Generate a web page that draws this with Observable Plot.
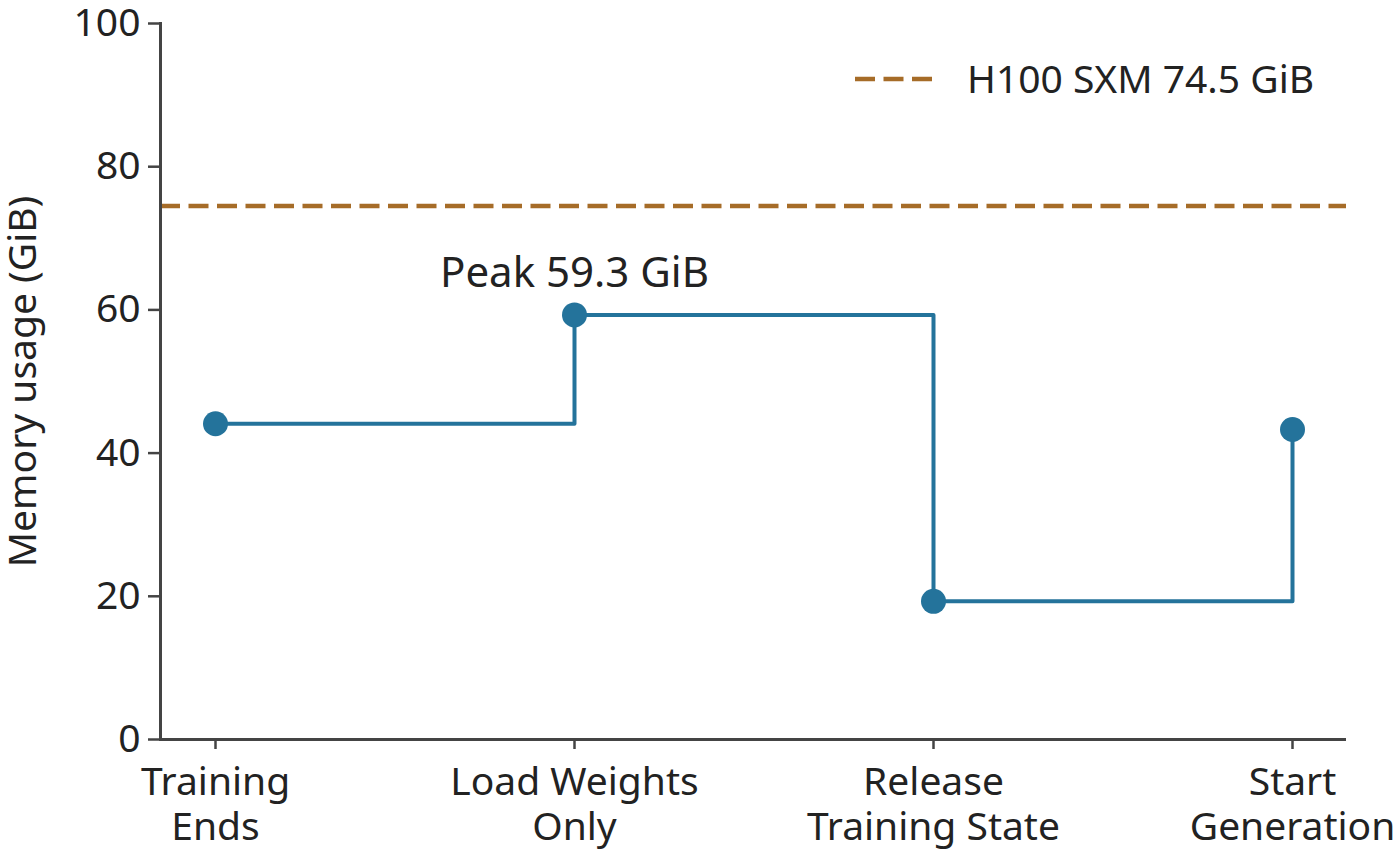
<!DOCTYPE html>
<html>
<head>
<meta charset="utf-8">
<script src="https://cdn.jsdelivr.net/npm/d3@7"></script>
<script src="https://cdn.jsdelivr.net/npm/@observablehq/plot@0.6"></script>
<style>
  html, body { margin: 0; padding: 0; background: #fff; }
  #chart { width: 1400px; height: 859px; overflow: hidden; }
</style>
</head>
<body>
<div id="chart"></div>
<script>
const stages = ["Training\nEnds", "Load Weights\nOnly", "Release\nTraining State", "Start\nGeneration"];
const memoryGiB = [44.1, 59.3, 19.3, 43.3];
const limitGiB = [74.5];
const limitLabel = "H100 SXM 74.5 GiB";
const peakLabel = "Peak 59.3 GiB";
const yTicks = [0, 20, 40, 60, 80, 100];
const yLabel = "Memory usage (GiB)";

const lineColor = "#24739b";
const limitColor = "#a66c28";
const axisColor = "#444";
const textColor = "#222";
const FONT = "'Noto Sans', 'Source Sans Pro', sans-serif";
const FS = 39;

const data = stages.map((s, i) => ({stage: s, mem: memoryGiB[i]}));
const peakIdx = memoryGiB.indexOf(d3.max(memoryGiB));
const peak = [{stage: stages[peakIdx], mem: memoryGiB[peakIdx], label: peakLabel}];

const plot = Plot.plot({
  width: 1400,
  height: 859,
  marginLeft: 160,
  marginRight: 54,
  marginTop: 23,
  marginBottom: 120,
  style: {fontFamily: FONT, fontSize: FS + "px", color: textColor, background: "#fff", overflow: "visible"},
  x: {type: "point", domain: stages, padding: 0.15},
  y: {domain: [0, 100], ticks: yTicks},
  marks: [
    Plot.ruleY(limitGiB, {stroke: limitColor, strokeWidth: 4.5, strokeDasharray: "20,8.5"}),
    Plot.line(data, {x: "stage", y: "mem", curve: "step-after", stroke: lineColor, strokeWidth: 4}),
    Plot.dot(data, {x: "stage", y: "mem", r: 12.5, fill: lineColor, stroke: "none"}),
    Plot.text(peak, {x: "stage", y: "mem", text: "label", dy: -28, lineAnchor: "bottom", fill: textColor, fontSize: 42}),
    Plot.axisX({tickSize: 10, tickPadding: 14, stroke: axisColor, strokeWidth: 2.5, fill: textColor, label: null, lineHeight: 1.15, fontSize: FS}),
    Plot.axisY({ticks: yTicks, tickSize: 12, tickPadding: 8, stroke: axisColor, strokeWidth: 2.5, fill: textColor, fontSize: FS,
      label: yLabel, labelAnchor: "center", labelArrow: "none", labelOffset: 152}),
    Plot.ruleY([0], {stroke: axisColor, strokeWidth: 3}),
    Plot.frame({anchor: "left", stroke: axisColor, strokeWidth: 3})
  ]
});

document.getElementById("chart").appendChild(plot);

// legend (top right, inside plot)
const svg = d3.select(plot);
const lg = svg.append("g").attr("font-family", FONT).attr("font-size", FS).attr("text-anchor", "start");
lg.append("line").attr("x1", 855).attr("x2", 932).attr("y1", 79).attr("y2", 79)
  .attr("stroke", limitColor).attr("stroke-width", 4.5).attr("stroke-dasharray", "20,8.5");
lg.append("text").attr("x", 967).attr("y", 93).attr("fill", textColor).text(limitLabel);
</script>
</body>
</html>
